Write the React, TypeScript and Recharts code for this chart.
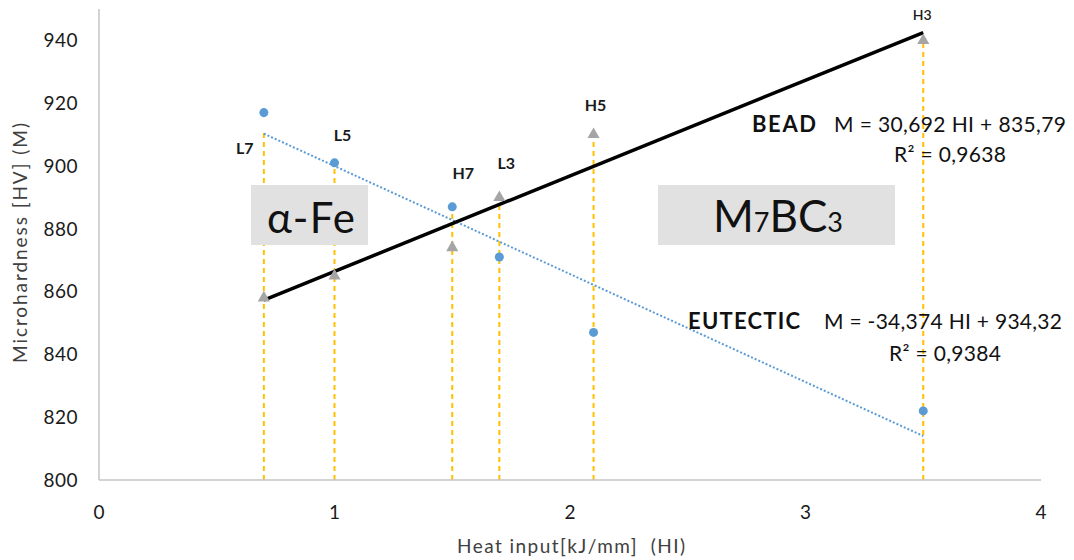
import React from 'react';
import { ComposedChart, Scatter, Line, XAxis, YAxis, ZAxis } from 'recharts';

// measured samples
const heatInput = [0.7, 1.0, 1.5, 1.7, 2.1, 3.5];
const sampleNames = ['L7', 'L5', 'H7', 'L3', 'H5', 'H3'];
const eutecticHv = [917, 901, 887, 871, 847, 822];
const beadHv = [858, 865, 874, 890, 910, 940];
// where each yellow drop line starts
const dropTopHv = [910.5, 901, 887, 890, 910, 940];

// trend line end points
const trendX = [0.7, 3.5];
const beadTrendHv = [857.3, 942.5];
const eutecticTrendHv = [910.3, 814];

const xTicks = [0, 1, 2, 3, 4];
const yTicks = [800, 820, 840, 860, 880, 900, 920, 940];

const FONT = 'Lato, "Open Sans", sans-serif';

const eutecticData = heatInput.map((x, i) => ({ x, y: eutecticHv[i] }));
const beadData = heatInput.map((x, i) => ({ x, y: beadHv[i] }));
const beadTrend = trendX.map((x, i) => ({ x, y: beadTrendHv[i] }));
const eutecticTrend = trendX.map((x, i) => ({ x, y: eutecticTrendHv[i] }));
const dropLines = heatInput.map((x, i) => [
  { x, y: 800 },
  { x, y: dropTopHv[i] },
]);
const labelData = heatInput.map((x, i) => ({
  x,
  y: Math.max(eutecticHv[i], beadHv[i]),
  name: sampleNames[i],
}));

// pixel offset of each sample label from its marker
const labelOffset: Record<string, [number, number]> = {
  L7: [-19, 35],
  L5: [8, -28],
  H7: [11, -34],
  L3: [7, -35],
  H5: [2, -30],
  H3: [-1, -26],
};

const SampleLabel = (props: any) => {
  const { cx, cy, payload } = props;
  const [dx, dy] = labelOffset[payload.name] || [0, 0];
  const small = payload.name === 'H3';
  return (
    <text
      x={cx + dx}
      y={cy + dy}
      textAnchor="middle"
      dominantBaseline="central"
      fontFamily={FONT}
      fontSize={small ? 14 : 16}
      fontWeight={small ? 600 : 700}
      fill="#1a1a1a"
    >
      {payload.name}
    </text>
  );
};

const App = () => {
  return (
    <div style={{ position: 'absolute', left: 0, top: 0, width: 1074, height: 560, background: '#fff' }}>
      <ComposedChart width={1074} height={560} margin={{ top: 9, right: 33, bottom: 0, left: 0 }}>
        <XAxis
          type="number"
          dataKey="x"
          domain={[0, 4]}
          ticks={xTicks}
          height={80}
          tickLine={false}
          tickMargin={20}
          axisLine={{ stroke: '#c4c4c4', strokeWidth: 1.5 }}
          tick={{ fill: '#1a1a1a', fontSize: 19, fontFamily: FONT }}
        />
        <YAxis
          type="number"
          dataKey="y"
          domain={[800, 950]}
          ticks={yTicks}
          width={99}
          tickLine={false}
          tickMargin={15}
          axisLine={{ stroke: '#c4c4c4', strokeWidth: 1.5 }}
          tick={{ fill: '#1a1a1a', fontSize: 19, fontFamily: FONT, letterSpacing: 0.5 }}
        />
        <ZAxis zAxisId="c" range={[85, 85]} />
        <ZAxis zAxisId="t" range={[60, 60]} />
        {dropLines.map((d, i) => (
          <Line
            key={'drop' + i}
            data={d}
            dataKey="y"
            type="linear"
            stroke="#ffc000"
            strokeWidth={2}
            strokeDasharray="5 4"
            dot={false}
            activeDot={false}
            isAnimationActive={false}
          />
        ))}
        <Line
          data={eutecticTrend}
          dataKey="y"
          type="linear"
          stroke="#5b9bd5"
          strokeWidth={2}
          strokeDasharray="2 2"
          dot={false}
          activeDot={false}
          isAnimationActive={false}
        />
        <Line
          data={beadTrend}
          dataKey="y"
          type="linear"
          stroke="#000"
          strokeWidth={3.5}
          dot={false}
          activeDot={false}
          isAnimationActive={false}
        />
        <Scatter data={beadData} zAxisId="t" shape="triangle" fill="#a5a5a5" isAnimationActive={false} />
        <Scatter data={eutecticData} zAxisId="c" shape="circle" fill="#5b9bd5" isAnimationActive={false} />
        <Scatter data={labelData} zAxisId="c" shape={SampleLabel} isAnimationActive={false} />
      </ComposedChart>
      <svg
        width={1074}
        height={560}
        style={{ position: 'absolute', left: 0, top: 0, pointerEvents: 'none' }}
        fontFamily={FONT}
      >
        <text
          transform="translate(19,243) rotate(-90)"
          textAnchor="middle"
          dominantBaseline="central"
          fontSize={19}
          textLength={240}
          fill="#404040"
        >
          Microhardness [HV] (M)
        </text>
        <text
          x={571}
          y={545}
          textAnchor="middle"
          dominantBaseline="central"
          fontSize={19}
          textLength={228}
          fill="#404040"
          style={{ whiteSpace: 'pre' }}
        >
          {'Heat input[kJ/mm]  (HI)'}
        </text>

        <rect x={251} y={185} width={117} height={60} fill="#e1e1e1" />
        <text x={311} y={233} textAnchor="middle" fontSize={42} textLength={88} fill="#111">
          α-Fe
        </text>
        <rect x={658} y={185} width={237} height={60} fill="#e1e1e1" />
        <text x={778} y={232} textAnchor="middle" fontSize={44} fill="#111">
          M<tspan fontSize={27}>7</tspan>BC<tspan fontSize={27}>3</tspan>
        </text>

        <text x={784} y={123} textAnchor="middle" dominantBaseline="central" fontSize={22} textLength={64} fontWeight={700} fill="#111">
          BEAD
        </text>
        <text x={950} y={123} textAnchor="middle" dominantBaseline="central" fontSize={21} textLength={232} fill="#111">
          M = 30,692 HI + 835,79
        </text>
        <text x={950} y={153} textAnchor="middle" dominantBaseline="central" fontSize={21} textLength={112} fill="#111">
          R² = 0,9638
        </text>

        <text x={744} y={320} textAnchor="middle" dominantBaseline="central" fontSize={22} textLength={112} fontWeight={700} fill="#111">
          EUTECTIC
        </text>
        <text x={943} y={320} textAnchor="middle" dominantBaseline="central" fontSize={21} textLength={238} fill="#111">
          M = -34,374 HI + 934,32
        </text>
        <text x={945} y={352} textAnchor="middle" dominantBaseline="central" fontSize={21} textLength={112} fill="#111">
          R² = 0,9384
        </text>
      </svg>
    </div>
  );
};

export default App;
